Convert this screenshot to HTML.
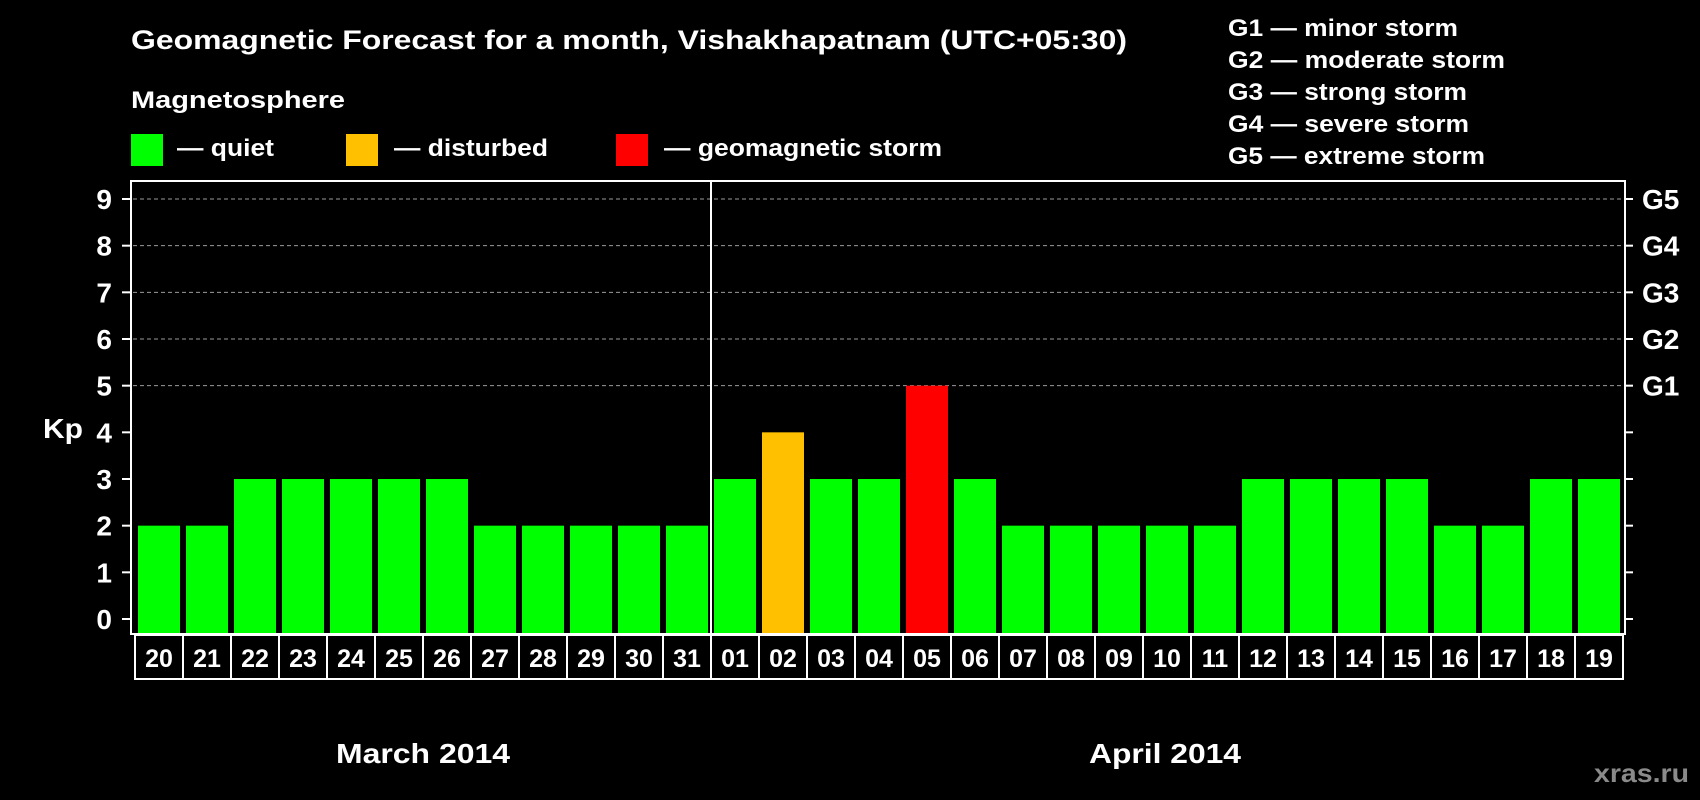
<!DOCTYPE html>
<html><head><meta charset="utf-8"><style>
html,body{margin:0;padding:0;background:#000;}
svg{display:block;font-family:"Liberation Sans",Arial,sans-serif;font-weight:bold;}
</style></head><body>
<svg id="chart" width="1700" height="800" viewBox="0 0 1700 800">
<text x="131" y="49" fill="#fff" font-size="27" textLength="996" lengthAdjust="spacingAndGlyphs">Geomagnetic Forecast for a month, Vishakhapatnam (UTC+05:30)</text>
<text x="131" y="108" fill="#fff" font-size="24" textLength="214" lengthAdjust="spacingAndGlyphs">Magnetosphere</text>
<g>
<rect x="131" y="134" width="32" height="32" fill="#00ff00"/>
<text x="177" y="156" fill="#fff" font-size="24" textLength="97" lengthAdjust="spacingAndGlyphs">— quiet</text>
<rect x="346" y="134" width="32" height="32" fill="#ffc000"/>
<text x="394" y="156" fill="#fff" font-size="24" textLength="154" lengthAdjust="spacingAndGlyphs">— disturbed</text>
<rect x="616" y="134" width="32" height="32" fill="#ff0000"/>
<text x="664" y="156" fill="#fff" font-size="24" textLength="278" lengthAdjust="spacingAndGlyphs">— geomagnetic storm</text>
</g>
<g font-size="24" fill="#fff">
<text x="1228" y="36" textLength="230" lengthAdjust="spacingAndGlyphs">G1 — minor storm</text>
<text x="1228" y="68" textLength="277" lengthAdjust="spacingAndGlyphs">G2 — moderate storm</text>
<text x="1228" y="100" textLength="239" lengthAdjust="spacingAndGlyphs">G3 — strong storm</text>
<text x="1228" y="132" textLength="241" lengthAdjust="spacingAndGlyphs">G4 — severe storm</text>
<text x="1228" y="164" textLength="257" lengthAdjust="spacingAndGlyphs">G5 — extreme storm</text>
</g>
<text x="43" y="438" fill="#fff" font-size="28" textLength="40" lengthAdjust="spacingAndGlyphs">Kp</text>
<g id="plot"></g>
<text x="336" y="763" fill="#fff" font-size="28" textLength="174" lengthAdjust="spacingAndGlyphs">March 2014</text>
<text x="1089" y="763" fill="#fff" font-size="28" textLength="152" lengthAdjust="spacingAndGlyphs">April 2014</text>
<text x="1594" y="782" fill="#8a8a8a" font-size="26" textLength="95" lengthAdjust="spacingAndGlyphs">xras.ru</text>
</svg>
<script>
const days = ["20","21","22","23","24","25","26","27","28","29","30","31","01","02","03","04","05","06","07","08","09","10","11","12","13","14","15","16","17","18","19"];
const kpValues = [2,2,3,3,3,3,3,2,2,2,2,2,3,4,3,3,5,3,2,2,2,2,2,3,3,3,3,2,2,3,3];
const yTicks = [0,1,2,3,4,5,6,7,8,9];
const stormLabels = ["G1","G2","G3","G4","G5"];
const monthBreakIndex = 12;

const NS = "http://www.w3.org/2000/svg";
const plot = document.getElementById("plot");
const pLeft = 131, pRight = 1625, pTop = 181, pBottom = 634;
const slot = 48, firstBar = 138, barW = 42;
function yScale(v){ return 619 - v * (420/9); }
function xScale(i){ return firstBar + i * slot; }
function mk(tag, attrs){ const e = document.createElementNS(NS, tag); for (const k in attrs) e.setAttribute(k, attrs[k]); plot.appendChild(e); return e; }
function color(v){ return v >= 5 ? "#ff0000" : (v >= 4 ? "#ffc000" : "#00ff00"); }

yTicks.forEach(t => {
  const y = yScale(t);
  if (t >= 5) {
    const g = mk("line", {x1: pLeft+2, x2: pRight-2, y1: y, y2: y, stroke: "#9a9a9a", "stroke-width": 1, "stroke-dasharray": "4,3"});
    
    
  }
  const tl = mk("line", {x1: 122, x2: pLeft, y1: y, y2: y, stroke: "#fff", "stroke-width": 2});
  
  
  const tr = mk("line", {x1: pRight, x2: 1633, y1: y, y2: y, stroke: "#fff", "stroke-width": 2});
  
  
  const lbl = mk("text", {x: 112, y: y + 10, fill: "#fff", "font-size": 28, "text-anchor": "end"});
  lbl.textContent = t;
  
  
  if (t >= 5) {
    const g = mk("text", {x: 1642, y: y + 10, fill: "#fff", "font-size": 28});
    g.textContent = stormLabels[t - 5];
    
    
  }
});

kpValues.forEach((v, i) => {
  const y = yScale(v);
  const b = mk("rect", {x: xScale(i), y: y, width: barW, height: pBottom - y, fill: color(v)});
  
  
});

const frame = mk("rect", {x: pLeft, y: pTop, width: pRight - pLeft, height: pBottom - pTop, fill: "none", stroke: "#fff", "stroke-width": 2});


const sepX = xScale(monthBreakIndex) - 3;
const sep = mk("line", {x1: sepX, x2: sepX, y1: pTop, y2: pBottom, stroke: "#fff", "stroke-width": 2});



days.forEach((d, i) => {
  const bx = xScale(i) - 3;
  const r = mk("rect", {x: bx, y: 635, width: slot, height: 44, fill: "none", stroke: "#fff", "stroke-width": 2});
  
  
  const t = mk("text", {x: bx + slot/2, y: 667, fill: "#fff", "font-size": 25, "text-anchor": "middle"});
  t.textContent = d;
  
  
});
</script>
</body></html>
